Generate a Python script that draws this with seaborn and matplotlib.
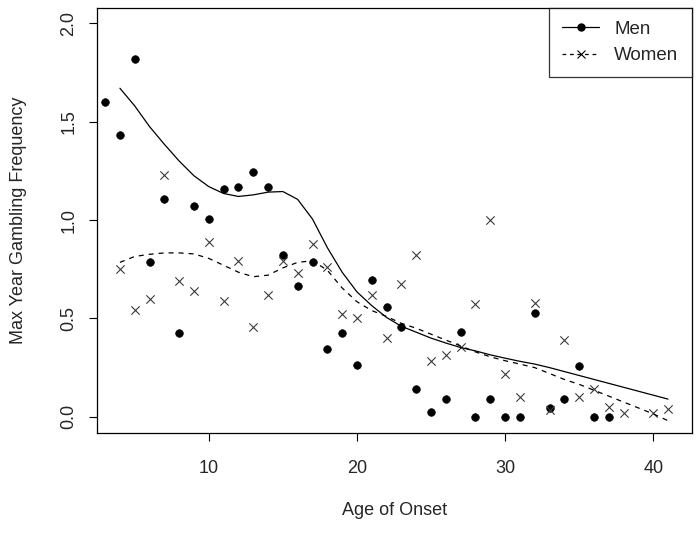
import pandas as pd
import seaborn as sns
import matplotlib.pyplot as plt
from matplotlib.lines import Line2D

# points
men_age = list(range(3, 38))
men_freq = [1.60, 1.43, 1.82, 0.785, 1.105, 0.425, 1.07, 1.005, 1.158, 1.169,
            1.244, 1.169, 0.822, 0.664, 0.786, 0.346, 0.425, 0.263, 0.697, 0.558,
            0.458, 0.142, 0.024, 0.088, 0.432, 0.0, 0.088, 0.0, 0.0, 0.526,
            0.044, 0.088, 0.258, 0.0, 0.0]

women_age = [4, 5, 6, 7, 8, 9, 10, 11, 12, 13, 14, 15, 16, 17, 18, 19, 20, 21,
             22, 23, 24, 25, 26, 27, 28, 29, 30, 31, 32, 33, 34, 35, 36, 37, 38,
             40, 41]
women_freq = [0.75, 0.545, 0.60, 1.23, 0.69, 0.64, 0.89, 0.59, 0.79, 0.455,
              0.62, 0.79, 0.73, 0.88, 0.76, 0.52, 0.50, 0.62, 0.40, 0.675,
              0.82, 0.285, 0.315, 0.355, 0.575, 1.0, 0.22, 0.10, 0.58, 0.035,
              0.39, 0.10, 0.14, 0.05, 0.02, 0.02, 0.04]

# smoothed curves
curve_age = list(range(4, 42))
men_curve = [1.67, 1.58, 1.475, 1.385, 1.30, 1.225, 1.17, 1.135, 1.12, 1.128,
             1.142, 1.145, 1.105, 1.005, 0.86, 0.735, 0.635, 0.565, 0.505, 0.46,
             0.43, 0.40, 0.375, 0.352, 0.335, 0.315, 0.298, 0.282, 0.268, 0.25,
             0.23, 0.21, 0.19, 0.17, 0.15, 0.13, 0.11, 0.09]
women_curve = [0.785, 0.815, 0.826, 0.833, 0.833, 0.828, 0.805, 0.77, 0.735,
               0.712, 0.72, 0.757, 0.785, 0.793, 0.745, 0.655, 0.585, 0.54,
               0.51, 0.475, 0.45, 0.42, 0.39, 0.36, 0.33, 0.305, 0.285, 0.268,
               0.25, 0.22, 0.19, 0.165, 0.135, 0.105, 0.075, 0.045, 0.015, -0.02]

sns.set_style("white")
plt.rcParams['font.family'] = ['Liberation Sans', 'DejaVu Sans']

fig = plt.figure(figsize=(6.99, 5.34), dpi=100)
ax = fig.add_axes([0.1383, 0.190, 0.8513, 0.7958])

sns.scatterplot(x=men_age, y=men_freq, marker='o', s=30, color='black',
                edgecolor='black', linewidth=0.5, ax=ax)
sns.scatterplot(x=women_age, y=women_freq, marker='x', s=36, color='#3a3a3a',
                linewidth=0.8, ax=ax)
sns.lineplot(x=curve_age, y=men_curve, color='black', linewidth=0.9, ax=ax)
sns.lineplot(x=curve_age, y=women_curve, color='black', linewidth=0.9,
             linestyle=(0, (4, 4)), ax=ax)

ax.set_xlim(2.43, 42.6)
ax.set_ylim(-0.08, 2.08)
ax.set_xticks([10, 20, 30, 40])
ax.set_yticks([0.0, 0.5, 1.0, 1.5, 2.0])
ax.set_yticklabels(['0.0', '0.5', '1.0', '1.5', '2.0'], rotation=90, va='center')
ax.tick_params(axis='both', direction='out', length=6, width=0.8, color='black',
               labelsize=13, bottom=True, left=True)
ax.tick_params(axis='x', pad=14)
ax.tick_params(axis='y', pad=8)
for sp in ax.spines.values():
    sp.set_color('black')
    sp.set_linewidth(0.9)

ax.set_xlabel("Age of Onset", fontsize=13, labelpad=18)
ax.set_ylabel("Max Year Gambling Frequency", fontsize=13, labelpad=24)

# legend like R's: line + point symbol
handles = [
    Line2D([], [], color='black', linewidth=0.9, marker='o', markersize=5),
    Line2D([], [], color='black', linewidth=0.9, linestyle=(0, (3, 3)),
           marker='x', markersize=6, markeredgewidth=0.8),
]
leg = ax.legend(handles, ["Men", "Women"], loc='upper right', fontsize=13.5,
                frameon=True, fancybox=False, borderaxespad=0,
                handlelength=2.0, handletextpad=0.8, borderpad=0.7,
                labelspacing=0.5)
leg.get_frame().set_edgecolor('black')
leg.get_frame().set_linewidth(0.9)

fig.savefig("out.png", dpi=100)
